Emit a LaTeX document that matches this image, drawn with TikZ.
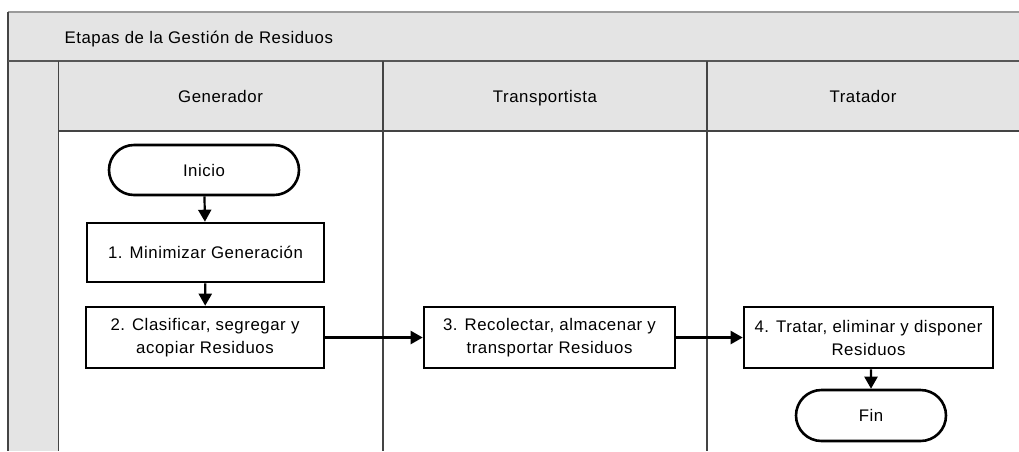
\documentclass[tikz,border=0pt]{standalone}
\usepackage{fontspec}
\setmainfont[LetterSpace=3.3]{Liberation Sans}
\usetikzlibrary{shapes.misc,arrows.meta}
\definecolor{hdrfill}{HTML}{E4E4E4}
\definecolor{laneline}{HTML}{444444}
\definecolor{topline}{HTML}{9A9A9A}
\tikzset{
  txt/.style={font=\fontsize{16.8}{23}\selectfont, text=black},
  stepbox/.style={txt, draw=black, line width=2.6pt, fill=white, align=center, inner sep=0pt},
  term/.style={txt, rounded rectangle, draw=black, line width=2.6pt, fill=white, inner sep=0pt},
  flow/.style={line width=2.2pt, -{Triangle[length=12pt,width=13pt]}},
}
\begin{document}
\begin{tikzpicture}[x=1pt,y=-1pt]
\useasboundingbox (0,0) rectangle (1019,451);
% backgrounds
\fill[hdrfill] (8,12) rectangle (1019,131);
\fill[hdrfill] (8,61) rectangle (58.5,451);
% frame lines
\draw[topline, line width=1.6pt] (8,12) -- (1019,12);
\draw[laneline, line width=1.2pt] (8,12) -- (8,451);
\draw[laneline!90, line width=2pt] (8,61) -- (1019,61);
\draw[laneline, line width=1.1pt] (58.5,131) -- (1019,131);
\draw[laneline, line width=1.1pt] (58.5,61) -- (58.5,451);
\draw[laneline, line width=1.1pt] (383,61) -- (383,451);
\draw[laneline, line width=1.1pt] (707,61) -- (707,451);
% header texts
\node[txt, anchor=base west] (title) at (61,43.5) {Etapas de la Gestión de Residuos};
\node[txt, anchor=base] (lgen) at (220.5,102.5) {Generador};
\node[txt, anchor=base] (ltra) at (545,102.5) {Transportista};
\node[txt, anchor=base] (ltrat) at (863,102.5) {Tratador};
% flow nodes
\node[term, minimum width=190pt, minimum height=50pt] (ini) at (204,170) {Inicio};
\node[stepbox, minimum width=237pt, minimum height=59pt] (b1) at (205.5,252.5) {1. Minimizar Generación};
\node[stepbox, minimum width=238pt, minimum height=61pt] (b2) at (205,337.5) {2. Clasificar, segregar y\\acopiar Residuos};
\node[stepbox, minimum width=251pt, minimum height=61pt] (b3) at (549.5,337.5) {3. Recolectar, almacenar y\\transportar Residuos};
\node[stepbox, minimum width=249pt, minimum height=61pt] (b4) at (868.5,337.5) {4. Tratar, eliminar y disponer\\Residuos};
\node[term, minimum width=150pt, minimum height=51pt] (fin) at (871,415.5) {Fin};
% connectors
\draw[flow] (ini) -- (b1);
\draw[flow] (b1) -- (b2);
\draw[flow] (b2) -- (b3);
\draw[flow] (b3) -- (b4);
\draw[flow] (b4.south -| fin) -- (fin);
\end{tikzpicture}
\end{document}
